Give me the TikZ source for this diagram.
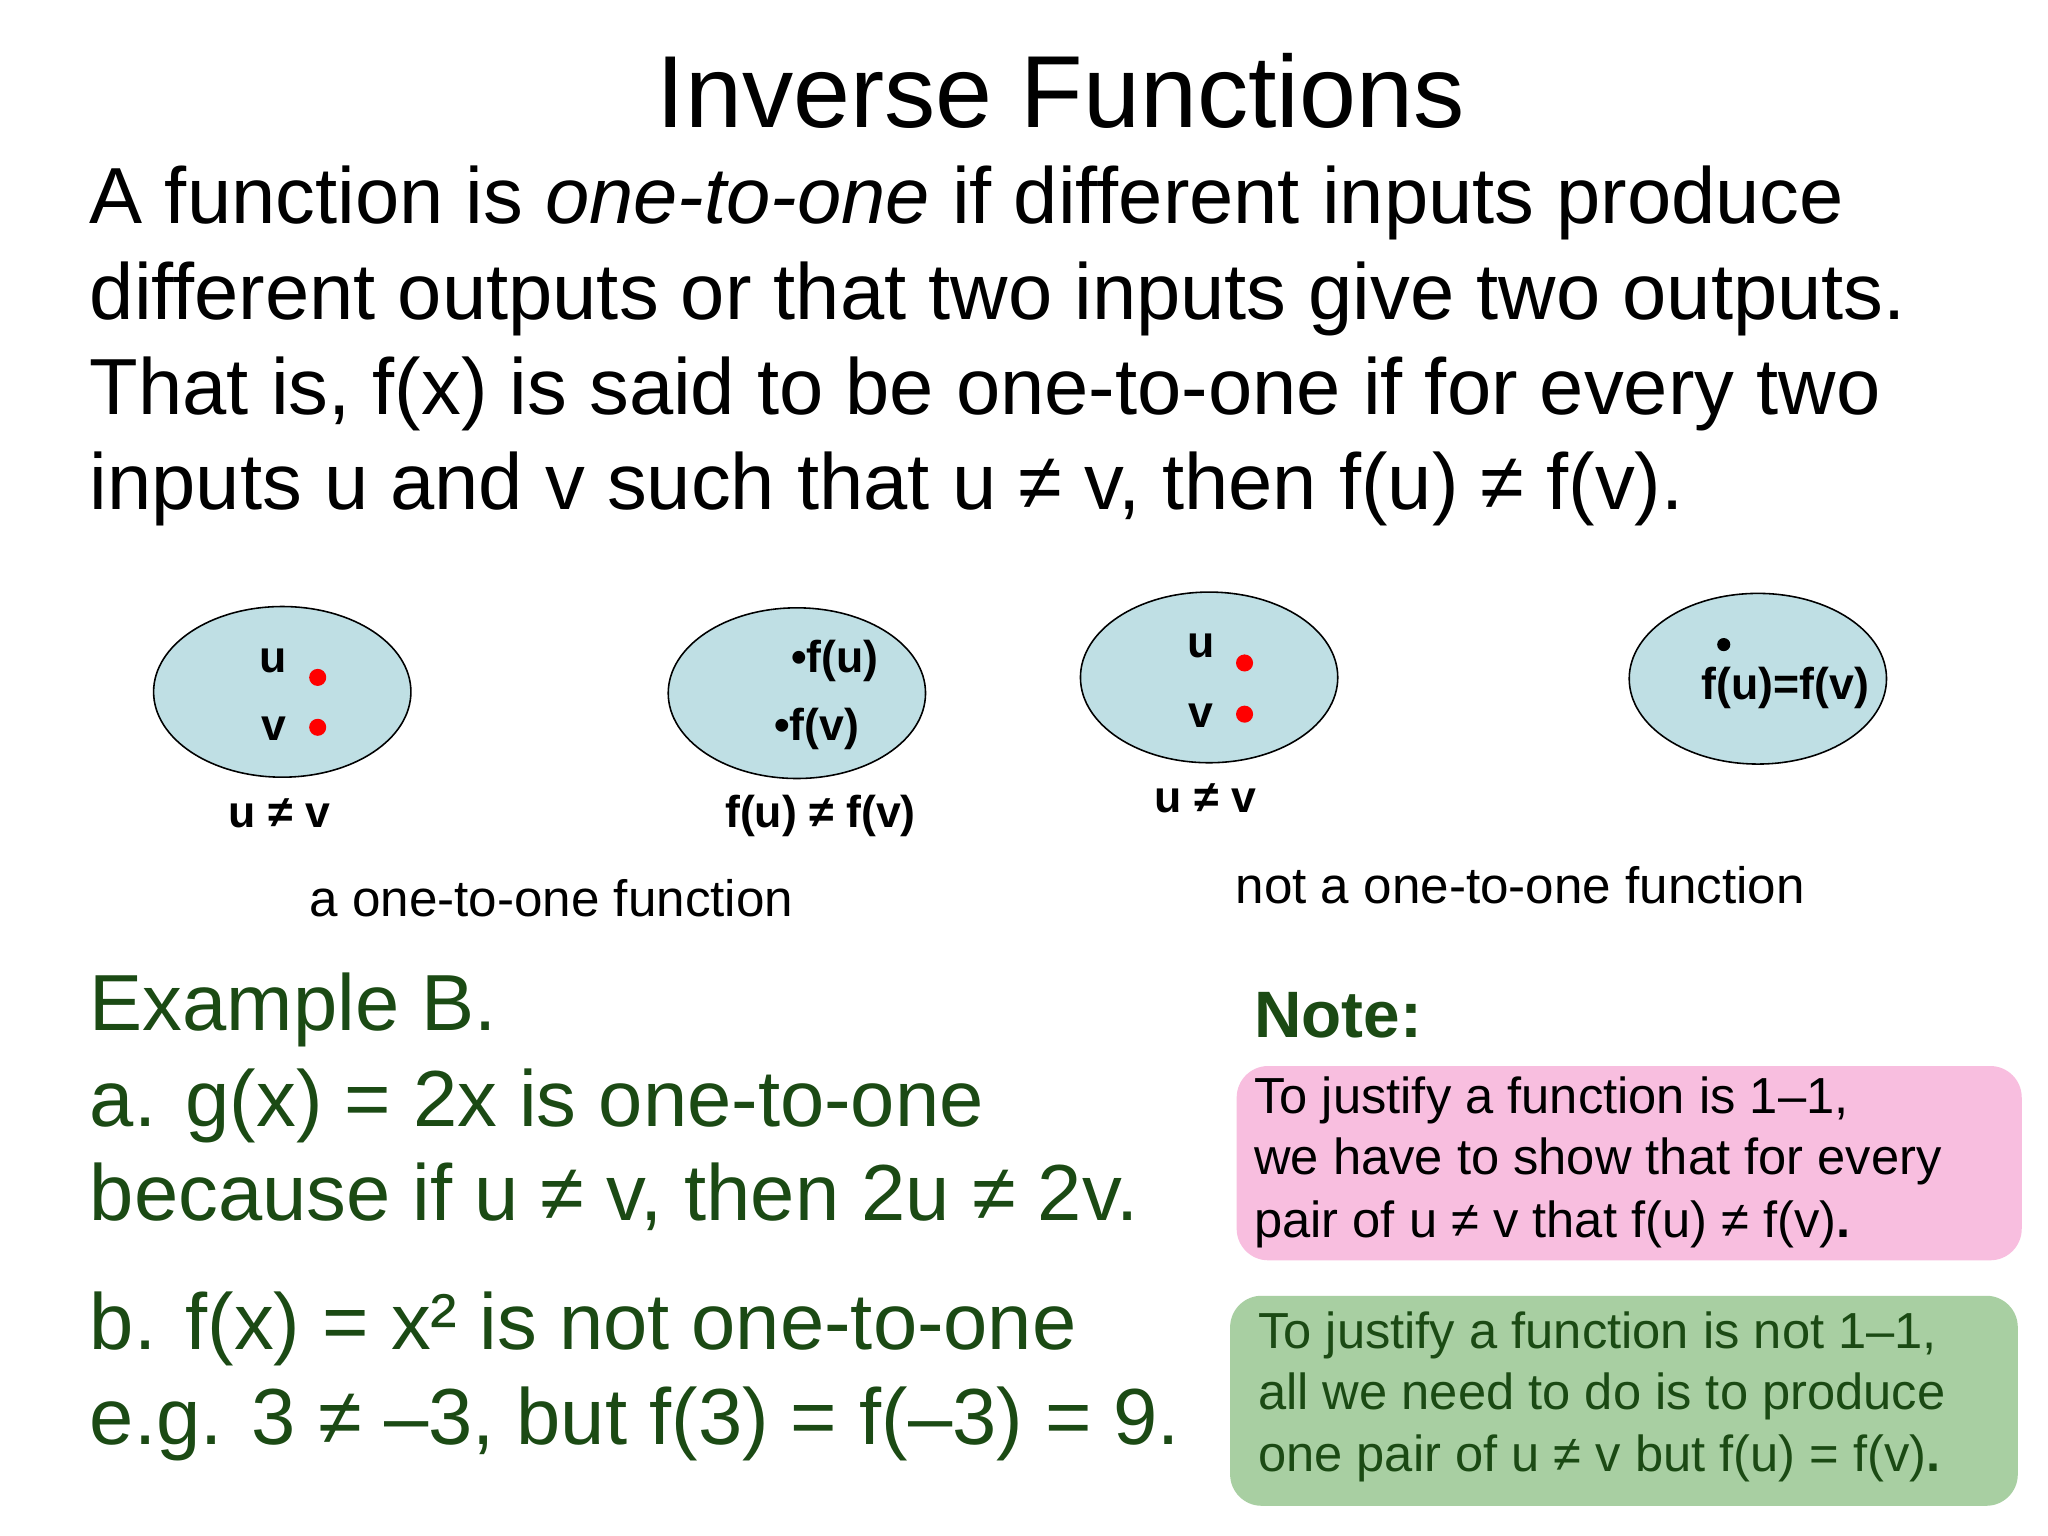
\documentclass[tikz,border=0pt]{standalone}
\usepackage{fontspec}
\setmainfont{Liberation Sans}
\usetikzlibrary{shapes.geometric}
\definecolor{ellfill}{HTML}{BFDFE4}
\definecolor{exgreen}{HTML}{1B4A14}
\definecolor{pinkbox}{HTML}{F8BEDF}
\definecolor{greenbox}{HTML}{A8CFA2}
\begin{document}
\begin{tikzpicture}[x=0.5pt,y=-0.5pt,
  body/.style={anchor=base west,inner sep=0,font=\fontsize{30.3}{37}\selectfont},
  ex/.style={body,text=exgreen},
  ell/.style={draw,fill=ellfill,ellipse,minimum width=98pt,minimum height=65pt,line width=0.6pt},
  lab/.style={anchor=base,inner sep=0,font=\fontsize{17}{20}\selectfont\bfseries},
  captext/.style={anchor=base,inner sep=0,font=\fontsize{19.5}{23}\selectfont},
  rdot/.style={circle,fill=red,inner sep=0,minimum size=6.5pt},
  bdot/.style={circle,fill=black,inner sep=0,minimum size=5pt},
  notet/.style={anchor=base west,inner sep=0,font=\fontsize{19.3}{23}\selectfont},
  box/.style={rounded corners=12pt,draw=none}]
\useasboundingbox[fill=white] (0,0) rectangle (1560,1170);
\node[anchor=base,inner sep=0,font=\fontsize{39}{47}\selectfont] (title) at (808,97) {Inverse Functions};
\node[body] (l1) at (68,170) {A function is \textit{one-to-one} if different inputs produce};
\node[body] (l2) at (68,243) {different outputs or that two inputs give two outputs.};
\node[body] (l3) at (68,316) {That is, f(x) is said to be one-to-one if for every two};
\node[body] (l4) at (68,388) {inputs u and v such that u ≠ v, then f(u) ≠ f(v).};
% ellipses
\node[ell] (e1) at (215,527) {};
\node[ell] (e2) at (607,528) {};
\node[ell] (e3) at (921,516) {};
\node[ell] (e4) at (1339,517) {};
\node[lab] (u1) at (208,512) {u};
\node[rdot] (du1) at (242,516) {};
\node[lab] (v1) at (209,564) {v};
\node[rdot] (dv1) at (242,554) {};
\node[lab] (c1) at (213,630) {u ≠ v};
\node[lab] (fu2) at (636,512) {•f(u)};
\node[lab] (fv2) at (622,564) {•f(v)};
\node[lab] (c2) at (625,630) {f(u) ≠ f(v)};
\node[lab] (u3) at (915,501) {u};
\node[rdot] (du3) at (948,505) {};
\node[lab] (v3) at (915,554) {v};
\node[rdot] (dv3) at (948,544) {};
\node[lab] (c3) at (918,619) {u ≠ v};
\node[bdot] (d4) at (1313,491) {};
\node[lab] (f4) at (1360,533) {f(u)=f(v)};
\node[captext] (cap1) at (420,698) {a one-to-one function};
\node[captext] (cap2) at (1158,688) {not a one-to-one function};
% example
\node[ex] (x1) at (68,785) {Example B.};
\node[ex] (x2) at (68,858) {a. g(x) = 2x is one-to-one};
\node[ex] (x3) at (68,930) {because if u ≠ v, then 2u ≠ 2v.};
\node[ex] (x4) at (68,1028) {b. f(x) = x² is not one-to-one};
\node[ex] (x5) at (68,1100) {e.g. 3 ≠ –3, but f(3) = f(–3) = 9.};
% note
\node[anchor=base west,inner sep=0,text=exgreen,font=\fontsize{25}{30}\selectfont\bfseries] (note) at (955,790) {Note:};
\fill[box,pinkbox] (942,812) rectangle (1540,960);
\node[notet] (p1) at (955,848) {To justify a function is 1–1,};
\node[notet] (p2) at (955,895) {we have to show that for every};
\node[notet] (p3) at (955,943) {pair of u ≠ v that f(u) ≠ f(v)\textbf{.}};
\fill[box,greenbox] (937,987) rectangle (1537,1147);
\node[notet,text=exgreen] (g1) at (958,1027) {To justify a function is not 1–1,};
\node[notet,text=exgreen] (g2) at (958,1074) {all we need to do is to produce};
\node[notet,text=exgreen] (g3) at (958,1121) {one pair of u ≠ v but f(u) = f(v)\textbf{.}};
\end{tikzpicture}
\end{document}
